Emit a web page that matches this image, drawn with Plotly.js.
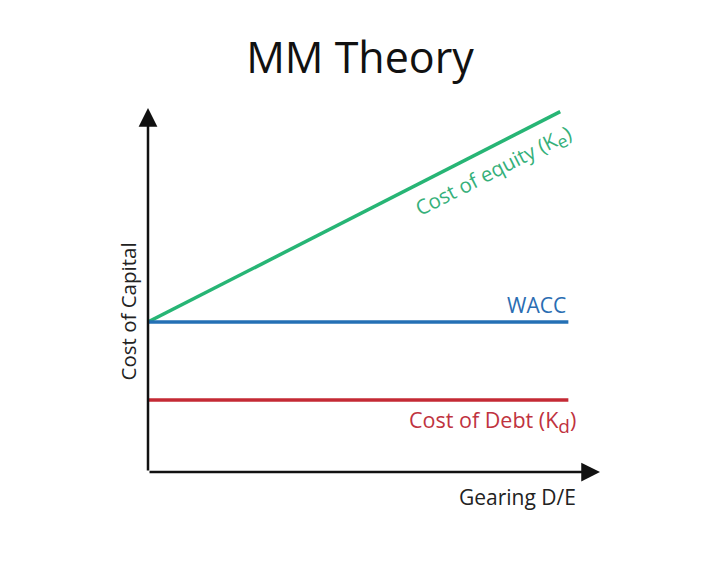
<!DOCTYPE html>
<html>
<head>
<meta charset="utf-8">
<script src="https://cdn.plot.ly/plotly-3.0.1.min.js"></script>
<style>html,body{margin:0;padding:0;background:#fff;}#chart{width:720px;height:576px;}</style>
</head>
<body>
<div id="chart"></div>
<script>
// Data (arbitrary units)
const gearingWacc = [0, 9.3];
const wacc = [4.12, 4.12];
const gearingDebt = [0, 9.3];
const costOfDebt = [1.98, 1.98];
const gearingEquity = [0, 9.12];
const costOfEquity = [4.12, 9.9];
const xMax = 10, yMax = 10;

const font = "'Open Sans', 'Noto Sans', sans-serif";

const traces = [
  {x: gearingEquity, y: costOfEquity, mode: 'lines', line: {color: '#27b575', width: 3.5}, hoverinfo: 'skip'},
  {x: gearingWacc, y: wacc, mode: 'lines', line: {color: '#2470b5', width: 3.5}, hoverinfo: 'skip'},
  {x: gearingDebt, y: costOfDebt, mode: 'lines', line: {color: '#c42a35', width: 3.5}, hoverinfo: 'skip'}
];

const layout = {
  width: 720, height: 576,
  paper_bgcolor: '#fff', plot_bgcolor: '#fff',
  showlegend: false,
  margin: {l: 148, r: 120, t: 108, b: 104},
  title: {text: 'MM Theory', x: 0.5, xanchor: 'center', y: 0.9, yanchor: 'middle',
          font: {family: font, size: 43, color: '#111'}},
  xaxis: {range: [0, xMax], showgrid: false, zeroline: false, showticklabels: false, ticks: '', showline: false, fixedrange: true},
  yaxis: {range: [0, yMax], showgrid: false, zeroline: false, showticklabels: false, ticks: '', showline: false, fixedrange: true},
  annotations: [
    // axes with arrowheads
    {x: xMax, y: 0, ax: 0, ay: 0, axref: 'x', ayref: 'y', xref: 'x', yref: 'y', text: '', showarrow: true,
     arrowhead: 2, arrowsize: 1.5, arrowwidth: 2.5, arrowcolor: '#111', standoff: 0},
    {x: 0, y: yMax, ax: 0, ay: 0, axref: 'x', ayref: 'y', xref: 'x', yref: 'y', text: '', showarrow: true,
     arrowhead: 2, arrowsize: 1.5, arrowwidth: 2.5, arrowcolor: '#111', standoff: 0},
    // axis titles
    {xref: 'paper', yref: 'paper', x: 0.952, y: -0.068, xanchor: 'right', yanchor: 'middle', showarrow: false,
     text: 'Gearing D/E', font: {family: font, size: 21, color: '#222'}},
    {xref: 'paper', yref: 'paper', x: -0.045, y: 0.44, xanchor: 'center', yanchor: 'middle', showarrow: false,
     textangle: -90, text: 'Cost of Capital', font: {family: font, size: 20.5, color: '#222'}},
    // line labels
    {xref: 'x', yref: 'y', x: 9.3, y: wacc[0], xanchor: 'right', yanchor: 'bottom', yshift: 1, showarrow: false,
     text: 'WACC', font: {family: font, size: 21, color: '#2a6db2'}},
    {xref: 'x', yref: 'y', x: 9.52, y: costOfDebt[0], xanchor: 'right', yanchor: 'top', yshift: -3, showarrow: false,
     text: 'Cost of Debt (K<sub><span style="font-size:19px">d</span></sub>)', font: {family: font, size: 21.5, color: '#bf3340'}},
    {xref: 'x', yref: 'y', x: 7.65, y: 8.25, xanchor: 'center', yanchor: 'middle', showarrow: false, textangle: -27,
     text: 'Cost of equity (K<sub><span style="font-size:18px">e</span></sub>)', font: {family: font, size: 20.5, color: '#35b07a'}}
  ]
};

Plotly.newPlot('chart', traces, layout, {displayModeBar: false, staticPlot: true});
</script>
</body>
</html>
